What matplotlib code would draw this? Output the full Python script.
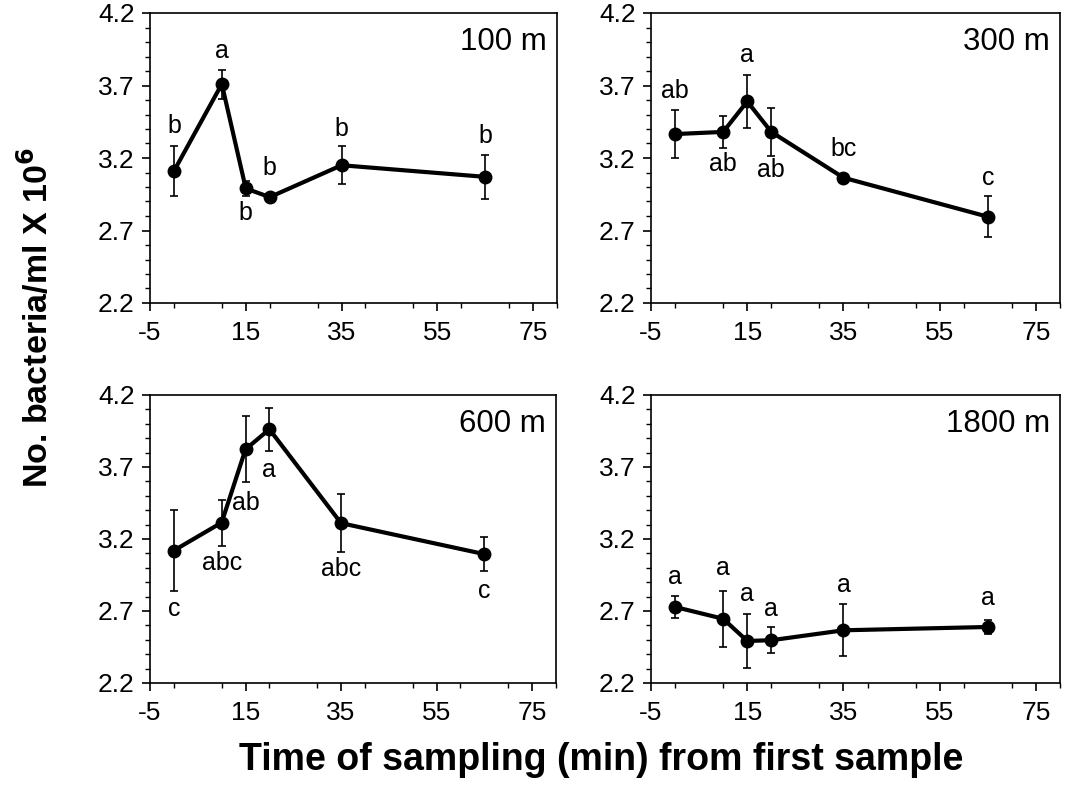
import matplotlib
matplotlib.use("Agg")
import matplotlib.pyplot as plt
from matplotlib.ticker import MultipleLocator

matplotlib.rcParams['font.family'] = ['Liberation Sans', 'DejaVu Sans']

# sampling times (min)
times = [0, 10, 15, 20, 35, 65]

depths = ["100 m", "300 m", "600 m", "1800 m"]

mean_100 = [3.11, 3.71, 2.99, 2.93, 3.15, 3.07]
err_100 = [0.17, 0.10, 0.05, 0.03, 0.13, 0.15]
let_100 = ["b", "a", "b", "b", "b", "b"]
let_y_100 = [3.42, 3.94, 2.82, 3.13, 3.40, 3.35]

mean_300 = [3.365, 3.38, 3.59, 3.38, 3.064, 2.795]
err_300 = [0.165, 0.11, 0.185, 0.165, 0.02, 0.14]
let_300 = ["ab", "ab", "a", "ab", "bc", "c"]
let_y_300 = [3.665, 3.16, 3.91, 3.12, 3.26, 3.06]

mean_600 = [3.12, 3.314, 3.823, 3.962, 3.31, 3.095]
err_600 = [0.28, 0.16, 0.23, 0.15, 0.20, 0.12]
let_600 = ["c", "abc", "ab", "a", "abc", "c"]
let_y_600 = [2.713, 3.03, 3.45, 3.68, 2.995, 2.84]

mean_1800 = [2.728, 2.646, 2.492, 2.497, 2.566, 2.589]
err_1800 = [0.075, 0.195, 0.19, 0.09, 0.18, 0.05]
let_1800 = ["a", "a", "a", "a", "a", "a"]
let_y_1800 = [2.937, 3.0, 2.82, 2.717, 2.88, 2.79]

means = [mean_100, mean_300, mean_600, mean_1800]
errs = [err_100, err_300, err_600, err_1800]
letters = [let_100, let_300, let_600, let_1800]
letters_y = [let_y_100, let_y_300, let_y_600, let_y_1800]

xticks = [-5, 15, 35, 55, 75]
xticklabels = ["-5", "15", "35", "55", "75"]
yticks = [2.2, 2.7, 3.2, 3.7, 4.2]

W, H = 1069, 792
fig = plt.figure(figsize=(W / 100, H / 100), dpi=100)

# axes boxes in pixels (left, top, right, bottom)
boxes = [
    (150, 13, 557, 303),
    (651, 13, 1060, 303),
    (150, 395, 556, 683),
    (651, 395, 1060, 683),
]

for k in range(4):
    l, t, r, b = boxes[k]
    ax = fig.add_axes([l / W, 1 - b / H, (r - l) / W, (b - t) / H])
    ax.errorbar(times, means[k], yerr=errs[k], color="black", lw=3,
                marker="o", ms=9, ecolor="black", elinewidth=1.2,
                capsize=3, capthick=1.2, zorder=3)
    for i in range(len(times)):
        ax.text(times[i], letters_y[k][i], letters[k][i], ha="center",
                va="center", fontsize=18)
    ax.text(0.975, 0.95, depths[k], transform=ax.transAxes, ha="right",
            va="top", fontsize=22.5)
    ax.set_xlim(-5, 80)
    ax.set_ylim(2.2, 4.2)
    ax.set_xticks(xticks)
    ax.set_xticklabels(xticklabels)
    ax.set_yticks(yticks)
    ax.set_yticklabels([str(v) for v in yticks])
    ax.xaxis.set_minor_locator(MultipleLocator(10))
    ax.yaxis.set_minor_locator(MultipleLocator(0.1))
    ax.tick_params(which="major", direction="out", length=6, width=1.2,
                   labelsize=19)
    ax.tick_params(axis="x", which="major", pad=7)
    ax.tick_params(axis="y", which="major", pad=5)
    ax.tick_params(which="minor", direction="out", length=3.5, width=1)
    for s in ax.spines.values():
        s.set_linewidth(1.2)

fig.text(36 / W, 1 - 318 / H, r"No. bacteria/ml X 10$^{\mathbf{6}}$",
         rotation=90, ha="center", va="center", fontsize=24.5,
         fontweight="bold")
fig.text(601 / W, 1 - 760 / H, "Time of sampling (min) from first sample",
         ha="center", va="center", fontsize=27, fontweight="bold")

fig.savefig("out.png", dpi=100)
plt.close(fig)
